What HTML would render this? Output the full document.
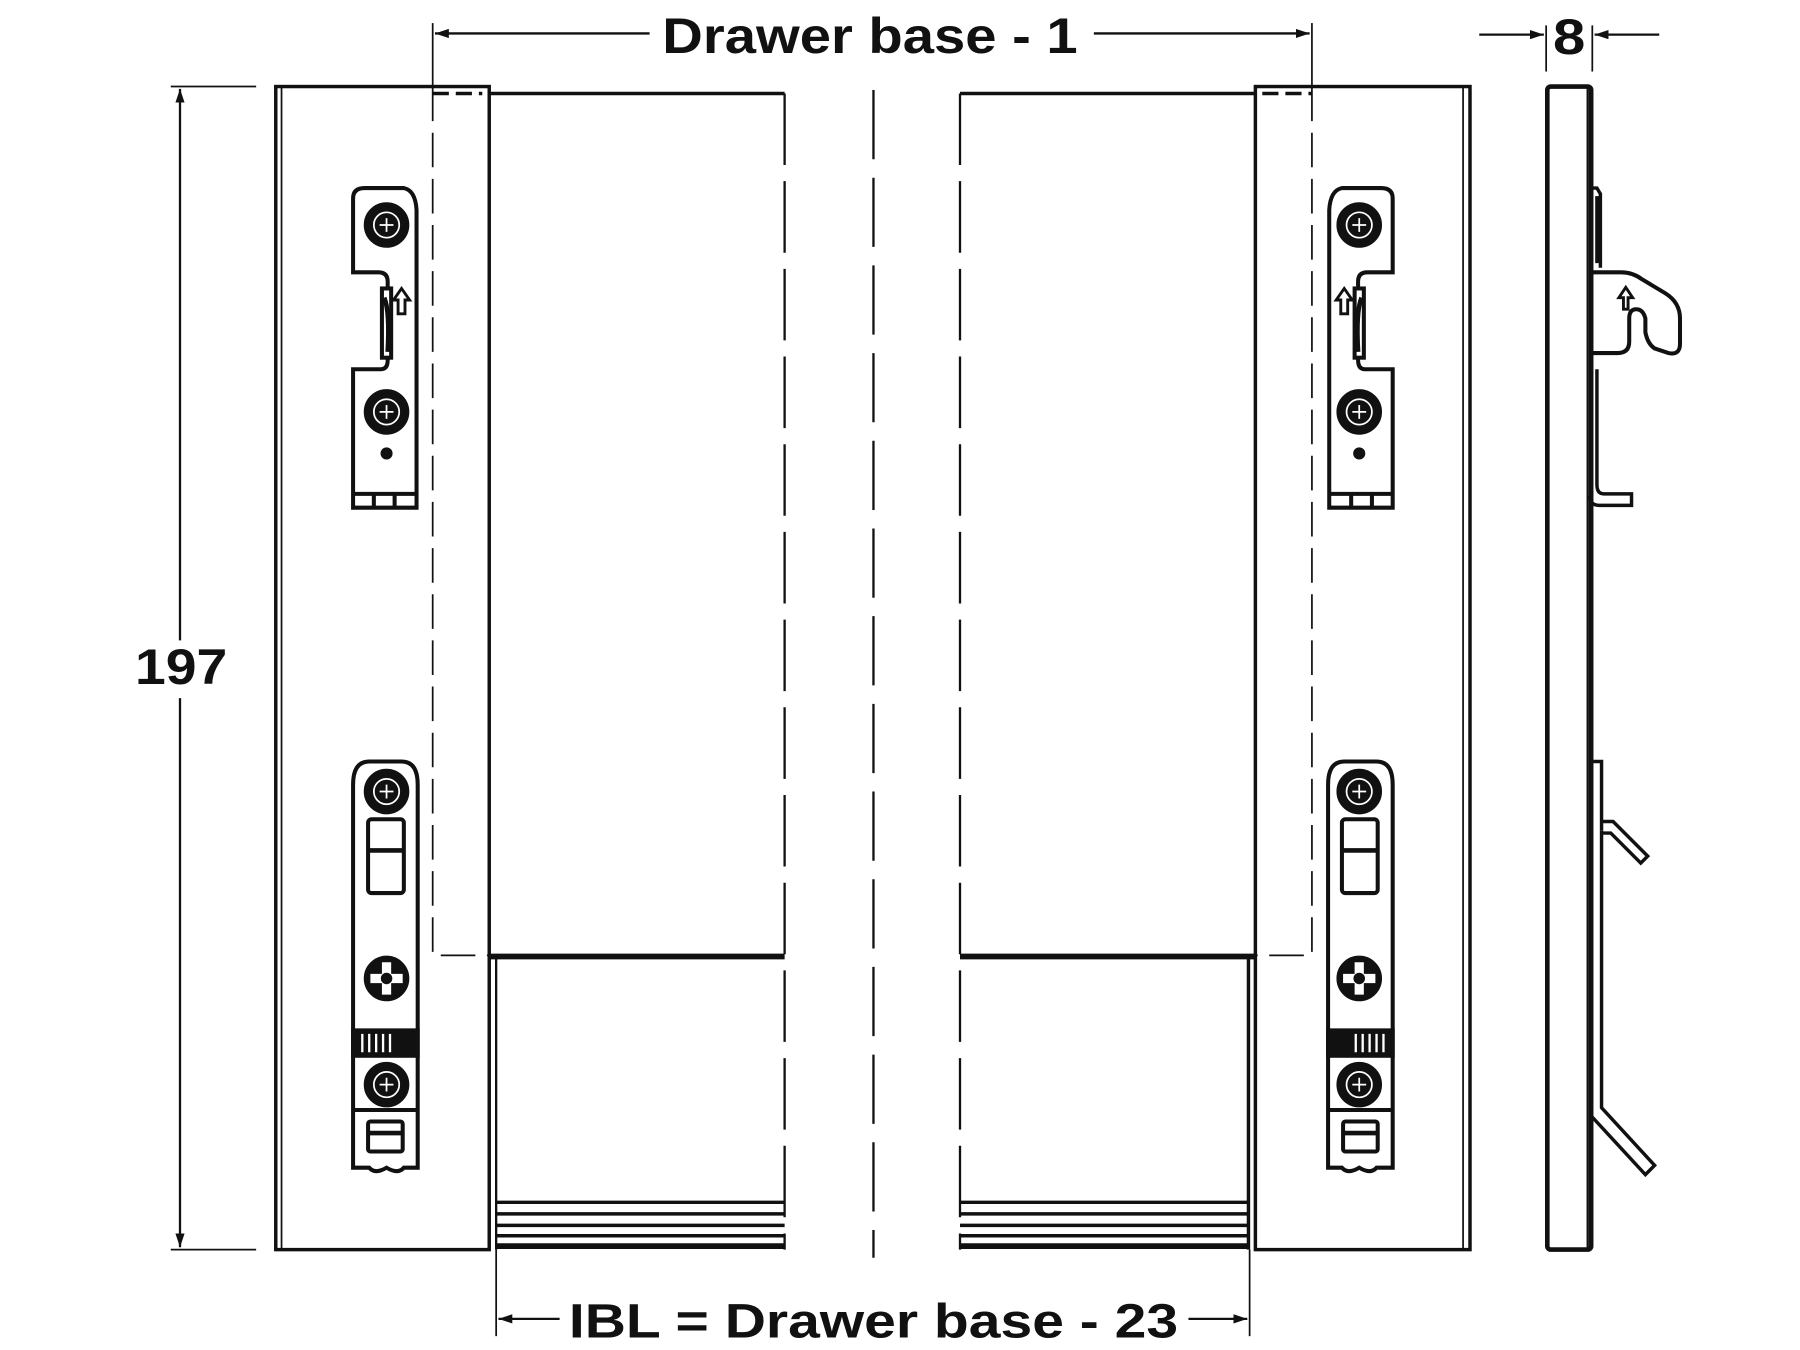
<!DOCTYPE html>
<html><head><meta charset="utf-8"><style>html,body{margin:0;padding:0;background:#fff}svg{display:block}</style></head>
<body>
<svg width="1800" height="1350" viewBox="0 0 1800 1350" xmlns="http://www.w3.org/2000/svg">
<defs>
<marker id="ar" markerWidth="12" markerHeight="8" refX="12" refY="4" orient="auto" markerUnits="userSpaceOnUse"><path d="M0,0 L12,4 L0,8 Z" fill="#111"/></marker>
<g id="brk1" fill="none" stroke="#111" stroke-width="3.5">
  <path d="M306,236 L306,172 Q306,163 316,163 L350,163 Q360,165 361,182 L361,440 L306,440 L306,320 L330,320 Q336,320 336,312 L336,244 Q336,236 328,236 Z" fill="#fff"/>
  <circle cx="335" cy="195" r="18" fill="#111"/><circle cx="335" cy="195" r="11" fill="none" stroke="#fff" stroke-width="1.5"/>
  <path d="M335,189v12M329,195h12" stroke="#fff" stroke-width="1.5"/>
  <circle cx="335" cy="357" r="18" fill="#111"/><circle cx="335" cy="357" r="11" fill="none" stroke="#fff" stroke-width="1.5"/>
  <path d="M335,351v12M329,357h12" stroke="#fff" stroke-width="1.5"/>
  <rect x="331" y="250" width="8" height="60" fill="#fff"/>
  <path d="M333,258 Q338,270 336,305" stroke-width="4"/>
  <path d="M345,272 v-12 h-4 l7,-10 l7,10 h-4 v12 z" stroke-width="2.5"/>
  <circle cx="335" cy="393" r="3.5" fill="#111"/>
  <path d="M306,428 h55 M324,428 v12 M342,428 v12" stroke-width="3.5"/>
</g>
<g id="brk2" fill="none" stroke="#111" stroke-width="3.5">
  <path d="M306,680 Q306,660 320,660 L348,660 Q362,660 362,680 L362,1012 L350,1012 Q345,1018 335,1012 Q325,1018 320,1012 L306,1012 Z" fill="#fff"/>
  <circle cx="335" cy="686" r="18" fill="#111"/><circle cx="335" cy="686" r="11" fill="none" stroke="#fff" stroke-width="1.5"/>
  <path d="M335,680v12M329,686h12" stroke="#fff" stroke-width="1.5"/>
  <rect x="319" y="710" width="31" height="64" rx="3"/>
  <path d="M319,737 h31" stroke-width="4"/>
  <circle cx="335" cy="848" r="18" fill="#111"/>
  <path d="M331,834h8v10h10v8h-10v10h-8v-10h-10v-8h10z" fill="#fff" stroke="none"/>
  <circle cx="335" cy="848" r="5" fill="#111" stroke="none"/>
  <rect x="306" y="893" width="56" height="22" fill="#111"/>
  <path d="M314,896v16M320,896v16M326,896v16M332,896v16M338,896v16" stroke="#fff" stroke-width="2"/>
  <circle cx="335" cy="940" r="18" fill="#111"/><circle cx="335" cy="940" r="11" fill="none" stroke="#fff" stroke-width="1.5"/>
  <path d="M335,934v12M329,940h12" stroke="#fff" stroke-width="1.5"/>
  <path d="M306,962 h56"/>
  <rect x="319" y="972" width="30" height="26" rx="2"/>
  <path d="M319,982 h30" stroke-width="4"/>
</g>
</defs>
<g transform="scale(1.153846)">
<g fill="none" stroke="#111">
  <line x1="375" y1="20" x2="375" y2="75" stroke-width="1.5"/>
  <line x1="1137" y1="20" x2="1137" y2="75" stroke-width="1.5"/>
  <line x1="563" y1="29" x2="377" y2="29" stroke-width="2" marker-end="url(#ar)"/>
  <line x1="948" y1="29" x2="1135" y2="29" stroke-width="2" marker-end="url(#ar)"/>
  <line x1="1340" y1="22" x2="1340" y2="62" stroke-width="1.5"/>
  <line x1="1380" y1="22" x2="1380" y2="62" stroke-width="1.5"/>
  <line x1="1282" y1="30" x2="1338" y2="30" stroke-width="2" marker-end="url(#ar)"/>
  <line x1="1438" y1="30" x2="1382" y2="30" stroke-width="2" marker-end="url(#ar)"/>
  <line x1="148" y1="75" x2="222" y2="75" stroke-width="1.5"/>
  <line x1="148" y1="1083" x2="222" y2="1083" stroke-width="1.5"/>
  <line x1="156" y1="555" x2="156" y2="77" stroke-width="2" marker-end="url(#ar)"/>
  <line x1="156" y1="605" x2="156" y2="1081" stroke-width="2" marker-end="url(#ar)"/>
  <line x1="430" y1="1083" x2="430" y2="1158" stroke-width="1.5"/>
  <line x1="1083" y1="1083" x2="1083" y2="1158" stroke-width="1.5"/>
  <line x1="485" y1="1143" x2="432" y2="1143" stroke-width="2" marker-end="url(#ar)"/>
  <line x1="1030" y1="1143" x2="1081" y2="1143" stroke-width="2" marker-end="url(#ar)"/>

  <rect x="239" y="75" width="185" height="1008" stroke-width="3"/>
  <line x1="244" y1="75" x2="244" y2="1083" stroke-width="1.5"/>
  <rect x="1088" y="75" width="186" height="1008" stroke-width="3"/>
  <line x1="1268" y1="75" x2="1268" y2="1083" stroke-width="1.5"/>

  <line x1="424" y1="81" x2="680" y2="81" stroke-width="3"/>
  <line x1="424" y1="829" x2="680" y2="829" stroke-width="5"/>
  <line x1="430" y1="831" x2="430" y2="1083" stroke-width="2"/>
  <line x1="680" y1="81" x2="680" y2="1083" stroke-width="2" stroke-dasharray="62,14"/>
  <line x1="832" y1="81" x2="1088" y2="81" stroke-width="3"/>
  <line x1="832" y1="829" x2="1088" y2="829" stroke-width="5"/>
  <line x1="1082" y1="831" x2="1082" y2="1083" stroke-width="3"/>
  <line x1="832" y1="81" x2="832" y2="1083" stroke-width="2" stroke-dasharray="62,14"/>
  <line x1="757" y1="78" x2="757" y2="1090" stroke-width="2" stroke-dasharray="60,16"/>
  <g stroke-width="3">
    <line x1="430" y1="1042" x2="680" y2="1042"/><line x1="430" y1="1052" x2="680" y2="1052"/>
    <line x1="430" y1="1062" x2="680" y2="1062"/><line x1="430" y1="1071" x2="680" y2="1071"/>
    <line x1="832" y1="1042" x2="1082" y2="1042"/><line x1="832" y1="1052" x2="1082" y2="1052"/>
    <line x1="832" y1="1062" x2="1082" y2="1062"/><line x1="832" y1="1071" x2="1082" y2="1071"/>
  </g>
  <line x1="430" y1="1080" x2="680" y2="1080" stroke-width="5"/>
  <line x1="832" y1="1080" x2="1082" y2="1080" stroke-width="5"/>

  <path d="M375,75 V828 H424" stroke-width="1.5" stroke-dasharray="30,10"/>
  <path d="M1137,75 V828 H1088" stroke-width="1.5" stroke-dasharray="30,10"/>
  <line x1="375" y1="81" x2="418" y2="81" stroke-width="3" stroke-dasharray="14,6"/>
  <line x1="1094" y1="81" x2="1137" y2="81" stroke-width="3" stroke-dasharray="14,6"/>
</g>

<use href="#brk1"/>
<use href="#brk2"/>
<use href="#brk1" transform="translate(1513,0) scale(-1,1)"/>
<use href="#brk2" transform="translate(1513,0) scale(-1,1)"/>

<g fill="none" stroke="#111">
  <rect x="1341" y="75" width="38" height="1008" rx="3" stroke-width="4"/>
  <line x1="1376" y1="75" x2="1376" y2="1083" stroke-width="2"/>
  <path d="M1379,163 h5 l3,5 V232 M1384,170 V228" stroke-width="3"/>
  <path d="M1380,236 h25 q10,0 18,6 l20,12 q13,8 13,22 v22 q0,10 -10,8 l-12,-4 q-6,-4 -8,-14 v-12 q-2,-8 -8,-8 q-6,0 -6,8 v20 q0,10 -10,10 h-22" stroke-width="3.5"/>
  <path d="M1407,268 v-10 h-4 l6,-9 l6,9 h-4 v10 z" stroke-width="2.5"/>
  <path d="M1384,320 V420 q0,8 6,8 h24 v10 h-28 q-8,0 -8,-8" stroke-width="3"/>
  <path d="M1381,660 h7 V720 M1388,712 h10 l30,30 l-6,6 l-26,-26 h-8" stroke-width="3"/>
  <path d="M1388,720 V960 l46,50 l-8,8 l-48,-52" stroke-width="3"/>
</g>

<g font-family="Liberation Sans, sans-serif" font-weight="bold" fill="#111">
  <text x="574" y="46" font-size="43" textLength="360" lengthAdjust="spacingAndGlyphs">Drawer base - 1</text>
  <text x="1346" y="47" font-size="43" textLength="28" lengthAdjust="spacingAndGlyphs">8</text>
  <text x="117" y="593" font-size="43" textLength="80" lengthAdjust="spacingAndGlyphs">197</text>
  <text x="493" y="1159" font-size="42" textLength="528" lengthAdjust="spacingAndGlyphs">IBL = Drawer base - 23</text>
</g>
</g>
</svg>
</body></html>
